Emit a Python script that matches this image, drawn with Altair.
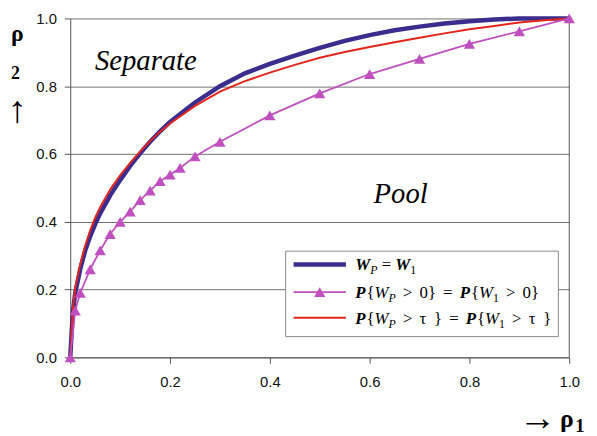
import altair as alt
import pandas as pd

# ---------------- data ----------------
ticks = [0.0, 0.2, 0.4, 0.6, 0.8, 1.0]

tri_x = [0, 0.01, 0.02, 0.04, 0.06, 0.08, 0.10, 0.12, 0.14, 0.16, 0.18, 0.20,
         0.22, 0.25, 0.30, 0.40, 0.50, 0.60, 0.70, 0.80, 0.90, 1.00]
tri_y = [0, 0.138, 0.19, 0.26, 0.316, 0.364, 0.40, 0.43, 0.464, 0.492, 0.52, 0.539,
         0.559, 0.593, 0.636, 0.714, 0.779, 0.836, 0.881, 0.925, 0.962, 1.0]

curve_x = [0, 0.005, 0.01, 0.02, 0.03, 0.04, 0.05, 0.06, 0.08, 0.10, 0.12, 0.14,
           0.16, 0.18, 0.20, 0.25, 0.30, 0.35, 0.40, 0.45, 0.50, 0.55, 0.60, 0.65,
           0.70, 0.75, 0.80, 0.85, 0.90, 0.95, 1.00]
blue_y = [0, 0.13, 0.19, 0.26, 0.315, 0.357, 0.393, 0.425, 0.478, 0.523, 0.565, 0.602,
          0.636, 0.667, 0.695, 0.752, 0.80, 0.838, 0.866, 0.89, 0.913, 0.934, 0.951, 0.965,
          0.976, 0.985, 0.992, 0.997, 1.0, 1.0, 1.0]
red_y = [0, 0.14, 0.205, 0.275, 0.33, 0.375, 0.412, 0.443, 0.495, 0.537, 0.574, 0.607,
         0.638, 0.666, 0.69, 0.742, 0.784, 0.815, 0.84, 0.863, 0.884, 0.901, 0.916, 0.93,
         0.943, 0.956, 0.968, 0.978, 0.988, 0.995, 1.0]

region_labels = ["Separate", "Pool"]

# legend rows: (text, style) pieces
legend_rows = [
    [("W", "bi"), ("P", "isub"), (" = ", "r"), ("W", "bi"), ("1", "rsub")],
    [("P", "bi"), ("{", "r"), ("W", "i"), ("P", "isub"), (" > 0} = ", "r"),
     ("P", "bi"), ("{", "r"), ("W", "i"), ("1", "rsub"), (" > 0}", "r")],
    [("P", "bi"), ("{", "r"), ("W", "i"), ("P", "isub"), (" > τ } = ", "r"),
     ("P", "bi"), ("{", "r"), ("W", "i"), ("1", "rsub"), (" > τ }", "r")],
]

# ---------------- style ----------------
BLUE = "#3a2d8e"
MAG = "#c050c0"
RED = "#e2261c"
SERIF = "Liberation Serif"
SANS = "Liberation Sans"
W, H = 505, 343


def one():
    return pd.DataFrame({"k": [0]})


def txt(s, x, y, size, style="normal", weight="normal", align="left",
        baseline="alphabetic", font=SERIF):
    return alt.Chart(one()).mark_text(
        fontSize=size, fontStyle=style, fontWeight=weight, align=align,
        baseline=baseline, font=font, color="black"
    ).encode(x=alt.value(x), y=alt.value(y), text=alt.value(s))


xs = alt.Scale(domain=[0, 1], nice=False, zero=False)
ys = alt.Scale(domain=[0, 1], nice=False, zero=False)

x_enc = alt.X("x:Q", scale=xs, axis=alt.Axis(values=ticks, format=".1f", title=None,
                                             grid=False, labelPadding=11, tickSize=6,
                                             labelFlush=False))
y_enc = alt.Y("y:Q", scale=ys, axis=alt.Axis(values=ticks, format=".1f", title=None,
                                             grid=True, labelPadding=8, tickSize=6,
                                             labelFlush=False))

blue_df = pd.DataFrame({"x": curve_x, "y": blue_y})
red_df = pd.DataFrame({"x": curve_x, "y": red_y})
tri_df = pd.DataFrame({"x": tri_x, "y": tri_y})

blue = alt.Chart(blue_df).mark_line(color=BLUE, strokeWidth=4.5).encode(x=x_enc, y=y_enc)
red = alt.Chart(red_df).mark_line(color=RED, strokeWidth=2).encode(x="x:Q", y="y:Q")
mag_line = alt.Chart(tri_df).mark_line(color=MAG, strokeWidth=1.8).encode(x="x:Q", y="y:Q")
mag_pts = alt.Chart(tri_df).mark_point(shape="triangle-up", filled=True, size=130,
                                       color=MAG, opacity=1).encode(x="x:Q", y="y:Q")

right_border = alt.Chart(one()).mark_rule(color="#555", strokeWidth=1).encode(
    x=alt.value(W), y=alt.value(0), y2=alt.value(H))

layers = [right_border, blue, red, mag_line, mag_pts]

# region labels
layers.append(txt(region_labels[0], 25, 52, 29, style="italic"))
layers.append(txt(region_labels[1], 307, 187, 29, style="italic"))

# axis titles
layers.append(txt("ρ", -53.5, 23, 24, weight="bold", align="center"))
layers.append(txt("2", -55.5, 61, 18, weight="bold", align="center"))
layers.append(txt("↑", -53.5, 94, 38, align="center", baseline="middle"))
layers.append(txt("→", 473, 405, 38, align="center", baseline="middle"))
layers.append(txt("ρ", 502.5, 413, 26, weight="bold", align="center"))
layers.append(txt("1", 511, 419, 19, weight="bold", align="left"))

# legend
LX0, LX1, LY0, LY1 = 218, 494, 235.5, 322
layers.append(alt.Chart(one()).mark_rect(fill="white", stroke="#888", strokeWidth=1).encode(
    x=alt.value(LX0), x2=alt.value(LX1), y=alt.value(LY0), y2=alt.value(LY1)))
row_y = [249, 277, 303]
sample_x0, sample_x1 = 226, 279
layers.append(alt.Chart(one()).mark_rule(color=BLUE, strokeWidth=4.5).encode(
    x=alt.value(sample_x0), x2=alt.value(sample_x1), y=alt.value(row_y[0])))
layers.append(alt.Chart(one()).mark_rule(color=MAG, strokeWidth=1.8).encode(
    x=alt.value(sample_x0), x2=alt.value(sample_x1), y=alt.value(row_y[1])))
layers.append(alt.Chart(one()).mark_point(shape="triangle-up", filled=True, size=130,
                                          color=MAG, opacity=1).encode(
    x=alt.value((sample_x0 + sample_x1) / 2), y=alt.value(row_y[1])))
layers.append(alt.Chart(one()).mark_rule(color=RED, strokeWidth=2).encode(
    x=alt.value(sample_x0), x2=alt.value(sample_x1), y=alt.value(row_y[2])))

FS, SFS = 17, 12
W_REG = {"{": 0.48, "}": 0.48, ">": 0.564, "=": 0.564, "0": 0.5, "1": 0.5, "τ": 0.44}
W_IT = {"W": 0.833, "P": 0.611}
W_BI = {"W": 0.889, "P": 0.667}
STYLES = {
    "bi": ("italic", "bold", FS, 0, W_BI),
    "i": ("italic", "normal", FS, 0, W_IT),
    "r": ("normal", "normal", FS, 0, W_REG),
    "isub": ("italic", "normal", SFS, 4, W_IT),
    "rsub": ("normal", "normal", SFS, 4, W_REG),
}
row_space = [4.25, 7.2, 7.2]
text_x0 = 288.5
for r, pieces in enumerate(legend_rows):
    cx = text_x0
    base = row_y[r] + 6
    for s, st in pieces:
        fstyle, fweight, fsize, dy, wt = STYLES[st]
        for ch in s:
            if ch == " ":
                cx += row_space[r]
                continue
            layers.append(txt(ch, cx, base + dy, fsize, style=fstyle, weight=fweight))
            cx += wt.get(ch, 0.5) * fsize

chart = alt.layer(*layers).properties(
    width=W, height=H,
    autosize=alt.AutoSizeParams(type="none"),
    padding={"left": 63, "top": 8, "right": 20, "bottom": 77},
).configure_view(stroke=None).configure_axis(
    labelFont=SANS, labelFontSize=15, labelColor="#111",
    domainColor="#555", tickColor="#555", gridColor="#707070", gridWidth=1,
)

chart.save("out.html", embed_options={"renderer": "svg", "actions": False})
